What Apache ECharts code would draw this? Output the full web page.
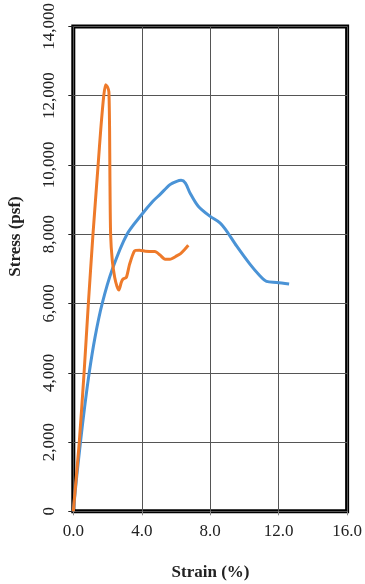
<!DOCTYPE html>
<html>
<head>
<meta charset="utf-8">
<script src="https://cdn.jsdelivr.net/npm/echarts@6/dist/echarts.min.js"></script>
<style>
html,body{margin:0;padding:0;background:#fff;}
#chart{width:365px;height:584px;}
</style>
</head>
<body>
<div id="chart"></div>
<script>
// Strain (%) / Stress (psf)
var blueX = [0, 0.2, 0.42, 0.66, 0.93, 1.26, 1.69, 2.29, 3.14, 4.0, 4.65, 5.06, 5.65, 6.04, 6.3, 6.55, 6.82, 7.3, 7.98, 8.57, 8.96, 9.54, 10.32, 10.9, 11.29, 11.88, 12.61];
var blueY = [0, 1000, 2000, 3000, 4000, 5000, 6000, 7000, 8000, 8570, 8951, 9143, 9430, 9525, 9554, 9477, 9190, 8808, 8521, 8329, 8091, 7660, 7135, 6800, 6636, 6607, 6561];
var orangeX = [0, 0.35, 0.63, 0.88, 1.15, 1.45, 1.6, 1.78, 1.89, 2.0, 2.08, 2.12, 2.14, 2.18, 2.28, 2.42, 2.55, 2.67, 2.8, 2.9, 3.1, 3.29, 3.58, 3.88, 4.2, 4.65, 4.77, 5.06, 5.36, 5.65, 6.04, 6.27, 6.52, 6.72];
var orangeY = [0, 2000, 4000, 6000, 8000, 10000, 11000, 12000, 12317, 12250, 12107, 11054, 9620, 8000, 7230, 6751, 6500, 6388, 6607, 6704, 6751, 7135, 7517, 7537, 7510, 7497, 7497, 7402, 7278, 7278, 7373, 7440, 7565, 7680];
var xTitle = 'Strain (%)';
var yTitle = 'Stress (psf)';

function pairs(xs, ys) { return xs.map(function (x, i) { return [x, ys[i]]; }); }

var font = '"Liberation Serif", "Times New Roman", serif';
var chart = echarts.init(document.getElementById('chart'), null, {renderer: 'canvas'});
chart.setOption({
  animation: false,
  backgroundColor: '#fff',
  grid: {left: 73.3, top: 24.7, right: 17.5, bottom: 72.7, show: true, borderWidth: 4, borderColor: '#000', containLabel: false},
  xAxis: {
    type: 'value', min: 0, max: 16, interval: 4,
    axisLine: {show: false},
    axisTick: {show: true, length: 4, lineStyle: {color: '#888', width: 1}},
    splitLine: {show: true, lineStyle: {color: '#555', width: 1}},
    axisLabel: {margin: 12, fontFamily: font, fontSize: 17, color: '#222', formatter: function (v) { return v.toFixed(1); }}
  },
  yAxis: {
    type: 'value', min: 0, max: 14000, interval: 2000,
    axisLine: {show: false},
    axisTick: {show: true, length: 5, lineStyle: {color: '#222', width: 1}},
    splitLine: {show: true, lineStyle: {color: '#555', width: 1}},
    axisLabel: {margin: 15, rotate: 90, fontFamily: font, fontSize: 17, color: '#222', formatter: function (v) { return v.toLocaleString('en-US'); }}
  },
  series: [
    {type: 'line', data: pairs(blueX, blueY), showSymbol: false, symbol: 'none', smooth: 0.3, lineStyle: {color: '#4a93d6', width: 3}, z: 3},
    {type: 'line', data: pairs(orangeX, orangeY), showSymbol: false, symbol: 'none', smooth: 0.2, lineStyle: {color: '#ee7a2a', width: 3}, z: 4}
  ],
  graphic: [
    {type: 'text', x: 210.5, y: 573, style: {text: xTitle, font: 'bold 17px ' + font, fill: '#222', align: 'center', verticalAlign: 'middle'}},
    {type: 'text', x: 16, y: 236.5, rotation: Math.PI / 2, style: {text: yTitle, font: 'bold 17px ' + font, fill: '#222', align: 'center', verticalAlign: 'middle'}}
  ]
});
</script>
</body>
</html>
